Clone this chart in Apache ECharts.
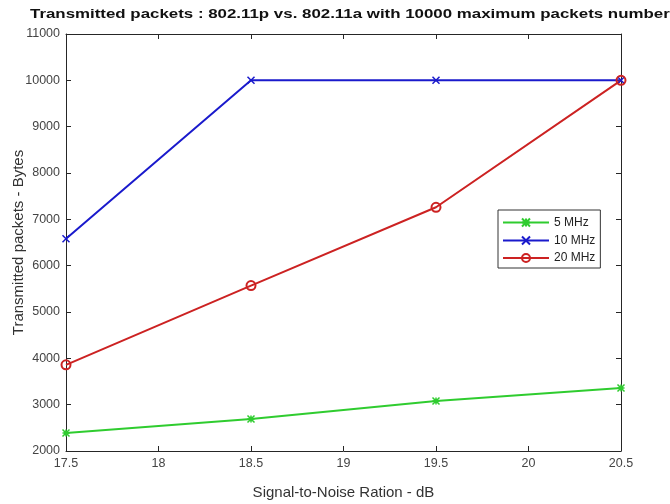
<!DOCTYPE html>
<html>
<head>
<meta charset="utf-8">
<script src="https://cdn.jsdelivr.net/npm/echarts@6/dist/echarts.min.js"></script>
<style>html,body{margin:0;padding:0;background:#fff}#main{width:670px;height:504px}</style>
</head>
<body>
<div id="main"></div>
<script>
var snr = [17.5, 18.5, 19.5, 20.5];
var mhz5 = [2390, 2690, 3080, 3360];
var mhz10 = [6580, 10000, 10000, 10000];
var mhz20 = [3860, 5570, 7260, 10000];

function pairs(ys) {
  return snr.map(function (x, i) { return [x, ys[i]]; });
}

var axisColor = '#262626';
var crossPath = 'path://M0,0L10,10M10,0L0,10';
var starPath = 'path://M0,0L10,10M10,0L0,10M5,0L5,10M0,5L10,5';
var font = 'Liberation Sans';

var chart = echarts.init(document.getElementById('main'));
chart.setOption({
  animation: false,
  graphic: [{
    type: 'text', left: 30, top: 7, scaleX: 1.25,
    style: {
      text: 'Transmitted packets : 802.11p vs. 802.11a with 10000 maximum packets number',
      font: 'bold 13.5px "Liberation Sans"', fill: '#111'
    }
  }],
  legend: {
    orient: 'vertical',
    left: 498, top: 210,
    itemWidth: 46, itemHeight: 10, itemGap: 5,
    padding: [6, 5, 4, 4],
    borderColor: '#333', borderWidth: 1,
    backgroundColor: '#fff',
    textStyle: { fontFamily: font, fontSize: 12, color: '#222' },
    data: ['5 MHz', '10 MHz', '20 MHz']
  },
  grid: { left: 66, right: 49, top: 34, bottom: 53, outerBoundsMode: 'none' },
  xAxis: [{
    type: 'value', min: 17.5, max: 20.5, interval: 0.5,
    name: 'Signal-to-Noise Ration - dB', nameLocation: 'middle', nameGap: 34,
    nameMoveOverlap: false,
    nameTextStyle: { fontFamily: font, fontSize: 15, color: '#333' },
    axisLine: { lineStyle: { color: axisColor } },
    axisTick: { inside: true, length: 5, lineStyle: { color: axisColor } },
    axisLabel: { fontFamily: font, fontSize: 12.5, color: '#444', margin: 6 },
    splitLine: { show: false }
  }, {
    type: 'value', position: 'top', min: 17.5, max: 20.5, interval: 0.5,
    axisLine: { show: true, lineStyle: { color: axisColor } },
    axisTick: { inside: true, length: 5, lineStyle: { color: axisColor } },
    axisLabel: { show: false },
    splitLine: { show: false }
  }],
  yAxis: [{
    type: 'value', min: 2000, max: 11000, interval: 1000,
    name: 'Transmitted packets - Bytes', nameLocation: 'middle', nameGap: 40,
    nameMoveOverlap: false,
    nameTextStyle: { fontFamily: font, fontSize: 15, color: '#333' },
    axisLine: { show: true, lineStyle: { color: axisColor } },
    axisTick: { show: true, inside: true, length: 5, lineStyle: { color: axisColor } },
    axisLabel: {
      fontFamily: font, fontSize: 12.5, color: '#444', margin: 6,
      formatter: function (v) { return String(v); }
    },
    splitLine: { show: false }
  }, {
    type: 'value', position: 'right', min: 2000, max: 11000, interval: 1000,
    axisLine: { show: true, lineStyle: { color: axisColor } },
    axisTick: { show: true, inside: true, length: 5, lineStyle: { color: axisColor } },
    axisLabel: { show: false },
    splitLine: { show: false }
  }],
  series: [{
    name: '5 MHz', type: 'line', data: pairs(mhz5),
    symbol: starPath, symbolSize: 7,
    lineStyle: { color: '#2fcc2f', width: 2 },
    itemStyle: { color: 'none', borderColor: '#2fcc2f', borderWidth: 1.5 }
  }, {
    name: '10 MHz', type: 'line', data: pairs(mhz10),
    symbol: crossPath, symbolSize: 7,
    lineStyle: { color: '#1a1acc', width: 2 },
    itemStyle: { color: 'none', borderColor: '#1a1acc', borderWidth: 1.5 }
  }, {
    name: '20 MHz', type: 'line', data: pairs(mhz20),
    symbol: 'circle', symbolSize: 9,
    lineStyle: { color: '#cc2222', width: 2 },
    itemStyle: { color: 'rgba(0,0,0,0)', borderColor: '#cc2222', borderWidth: 2 }
  }]
});
</script>
</body>
</html>
